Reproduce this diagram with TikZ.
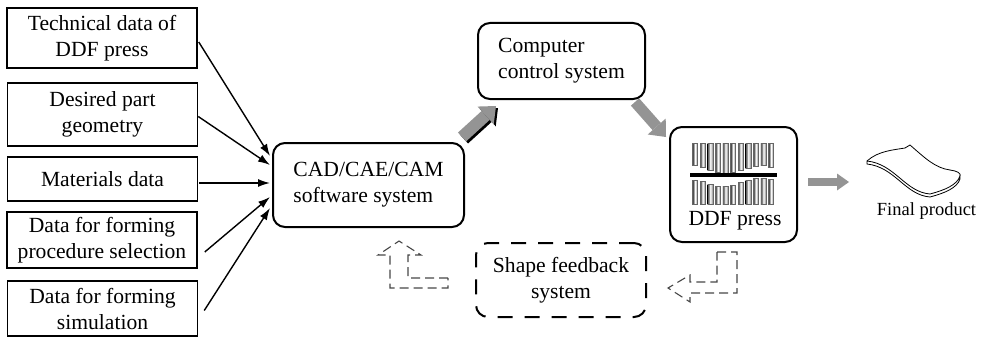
\documentclass[tikz,border=0pt]{standalone}
\usepackage{fontspec}
\setmainfont{Liberation Serif}
\usetikzlibrary{arrows.meta,calc}
\tikzset{
databox/.style = {rectangle, draw=black, line width=1.5pt, minimum width=#1, align=center, inner sep=1pt},
databox/.default = 190pt, % all input boxes share one width
sysbox/.style = {rectangle, rounded corners=12pt, draw=black, line width=2pt},
feedbox/.style = {sysbox, dash pattern=on 15pt off 12pt},
flow/.style = {line width=1.4pt, -{Latex[length=12pt,width=8pt]}},
bigflow/.style = {line width=#1, draw=black!42, -{Triangle[length=14pt,width=24pt,line width=0pt]}},
backflow/.style = {draw=black!72, line width=1.1pt, dash pattern=on 9pt off 5pt},
pin/.style = {draw=black!60, line width=0.4pt, left color=black!85, right color=black!45, middle color=white},
}

\begin{document}
\begin{tikzpicture}[x=1pt, y=-1pt, font=\fontsize{21.6}{26}\selectfont]
  \useasboundingbox (0,0) rectangle (981,337);

  % Input data
    \node[databox, minimum height=60pt] (tech) at (102,38) {Technical data of\\DDF press};
    \node[databox, minimum height=63pt] (geom) at (102.5,114.5) {Desired part\\geometry};
    \node[databox, minimum height=44pt] (mat) at (102.5,179) {Materials data};
    \node[databox, minimum height=56pt] (proc) at (102,240) {Data for forming\\procedure selection};
    \node[databox, minimum height=55pt] (sim) at (102.5,308.5) {Data for forming\\simulation};

  % Systems
    \node[sysbox, minimum width=191pt, minimum height=84pt, align=left] (cad) at (368.5,185) {CAD/CAE/CAM\\software system};
    \node[sysbox, minimum width=167pt, minimum height=76pt, align=left] (ctrl) at (561.5,61) {Computer\\control system};
    \node[sysbox, minimum width=127pt, minimum height=115pt] (ddf) at (733.5,184.5) {};
    \node (ddfText) at (735,221) {DDF press};
    \node[feedbox, minimum width=170pt, minimum height=74pt, align=center] (shape) at (561,280) {Shape feedback\\system};
    \node[font=\fontsize{18.5}{22}\selectfont] (final) at (926.5,211) {Final product};

  % Press pins
    \foreach \i/\a/\b in {0/165/180, 1/167/181, 2/170/184, 3/172/186, 4/173/186, 5/172/185,
                          6/170/182, 7/168/180, 8/166/178, 9/165/178, 10/167/179}{
      \draw[pin] ({692.5+7.6*\i},143) rectangle ({697.5+7.6*\i},\a);
      \draw[pin] ({692.5+7.6*\i},\b) rectangle ({697.5+7.6*\i},204);
    }
    \draw[line width=4pt] (690,174.5) -- (777,174.5);

  % Sheet part
    \draw[line width=0.8pt, fill=white] (867,161) .. controls (895,164) and (905,192) .. (930,194)
      .. controls (945,190) and (957,185) .. (960,176) -- (960,179)
      .. controls (957,188) and (945,193) .. (930,197) .. controls (905,195) and (895,167) .. (867,164) -- cycle;
    \draw[line width=0.8pt] (867,161) .. controls (878,151) and (893,150) .. (905,148) -- (910,145)
      .. controls (925,158) and (935,168) .. (950,170) .. controls (957,171) and (961,173) .. (960,176);

  % Connectors
    \draw[flow] ($(tech.east)+(1,4)$) -- ($(cad.west)+(-2,-29)$);
    \draw[flow] ($(geom.east)+(0,2)$) -- ($(cad.west)+(-2,-20)$);
    \draw[flow] ($(mat.east)+(1,4)$) -- ($(cad.west)+(-2,-2)$);
    \draw[flow] ($(proc.east)+(7,12)$) -- ($(cad.west)+(-2,12)$);
    \draw[flow] ($(sim.east)+(6,2)$) -- ($(cad.west)+(-2,23)$);

    \coordinate (cadOut) at (462,137);
    \coordinate (ctrlIn) at (496,106);
    \coordinate (ctrlOut) at (635,102);
    \coordinate (ddfIn) at (666,137);
    \coordinate (ddfOut) at (808,182);
    \coordinate (finalIn) at (849,182);
    \draw[bigflow=12pt, draw=black] ($(cadOut)+(2,2)$) -- ($(ctrlIn)+(2,2)$);
    \draw[bigflow=12pt] (cadOut) -- (ctrlIn);
    \draw[bigflow=11pt] (ctrlOut) -- (ddfIn);
    \draw[bigflow=8pt, -{Triangle[length=12pt,width=17pt,line width=0pt]}] (ddfOut) -- (finalIn);

  % Feedback arrows
    \draw[backflow] (448,278) -- (408,278) -- (408,255) -- (421,255) -- (399,241)
      -- (378,255) -- (390,255) -- (390,288) -- (448,288) -- cycle;
    \draw[backflow] (717,252) -- (737,252) -- (737,293) -- (690,293) -- (690,302)
      -- (668,288) -- (690,275) -- (690,282) -- (717,282) -- cycle;
\end{tikzpicture}
\end{document}
